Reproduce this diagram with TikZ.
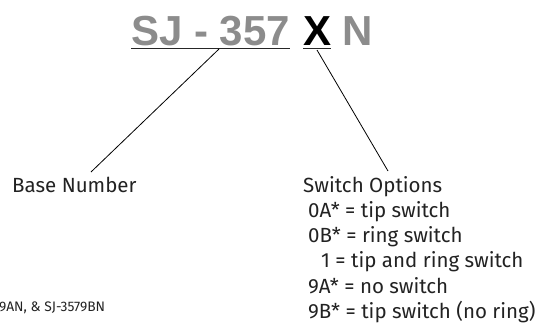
\documentclass[tikz,border=0pt]{standalone}
\usepackage{fontspec}
\setmainfont{Fira Sans}
\newfontfamily\titlefont{Liberation Sans}
\definecolor{titlegray}{HTML}{8C8C8C}
\definecolor{txt}{HTML}{222222}
\tikzset{
  ttl/.style={font=\titlefont\bfseries\fontsize{42}{42}\selectfont, inner sep=0pt, anchor=base west},
  lbl/.style={font=\fontsize{20.5}{25}\selectfont, text=txt, inner sep=0pt, anchor=base west},
  small/.style={font=\fontsize{13.8}{15}\selectfont, text=txt, inner sep=0pt, anchor=base west},
  uline/.style={line width=1.4pt, draw=black!85},
  conn/.style={line width=0.8pt, draw=black}
}
\begin{document}
\begin{tikzpicture}[x=1pt,y=1pt]
\useasboundingbox (0,0) rectangle (542,-322);
\node[ttl, text=titlegray] (sj) at (131,-45) {SJ - 357};
\node[ttl, text=black] (xx) at (303,-45) {X};
\node[ttl, text=titlegray] (nn) at (342,-45) {N};
\draw[uline] ([yshift=-3.5pt]sj.base west) -- ([yshift=-3.5pt]sj.base east);
\draw[uline] ([yshift=-3.5pt]xx.base west) -- ([yshift=-3.5pt]xx.base east);
\coordinate (c1) at (219,-49);
\coordinate (c2) at (317,-50);
\node[lbl] (bn) at (12,-192) {Base Number};
\node[lbl] (so) at (303,-192) {Switch Options};
\node[lbl] (o1) at (308,-217) {0A* = tip switch};
\node[lbl] (o2) at (308,-242) {0B* = ring switch};
\node[lbl] (o3) at (321,-267) {1 = tip and ring switch};
\node[lbl] (o4) at (308,-293) {9A* = no switch};
\node[lbl] (o5) at (308,-318) {9B* = tip switch (no ring)};
\node[small] (ft) at (-1,-311) {9AN, \& SJ-3579BN};
\coordinate (e1) at (91,-172);
\coordinate (e2) at (388,-171);
\draw[conn] (c1) -- (e1);
\draw[conn] (c2) -- (e2);
\end{tikzpicture}
\end{document}
